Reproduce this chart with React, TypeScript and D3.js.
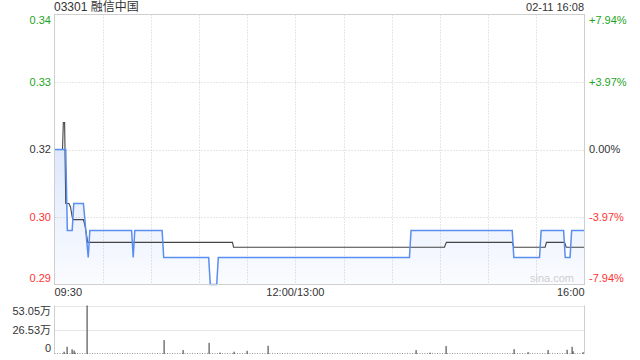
import React from "react";
import * as d3 from "d3";

const title = "03301 融信中国";
const stamp = "02-11 16:08";
const prevClose = 0.315;
const pctRange = 7.94;

const priceTickPcts = [7.94, 3.97, 0, -3.97, -7.94];
const priceTickLabels = ["0.34", "0.33", "0.32", "0.30", "0.29"];
const pctTickLabels = ["+7.94%", "+3.97%", "0.00%", "-3.97%", "-7.94%"];
const timeLabels = ["09:30", "12:00/13:00", "16:00"];
const timeLabelMinutes = [0, 150, 330];

// price line: [trading minute from 09:30, price]
const priceMinutes = [0, 7, 8, 11, 12, 18, 21, 22, 48, 49, 50, 67, 68, 96, 97, 101, 102, 221, 222, 285, 286, 302, 303, 317, 318, 321, 322, 330];
const priceValues = [0.315, 0.315, 0.3, 0.3, 0.305, 0.305, 0.295, 0.3, 0.3, 0.295, 0.3, 0.3, 0.295, 0.295, 0.29, 0.29, 0.295, 0.295, 0.3, 0.3, 0.295, 0.295, 0.3, 0.3, 0.295, 0.295, 0.3, 0.3];

// average line
const avgMinutes = [0, 5, 5.5, 6.3, 7, 9, 10, 11, 11.6, 18, 19, 20, 20.7, 110.8, 111.5, 242.8, 244, 285, 286, 305.5, 306.3, 317.6, 318.6, 330];
const avgValues = [0.315, 0.315, 0.32, 0.32, 0.305, 0.305, 0.3043, 0.3025, 0.302, 0.302, 0.3009, 0.2991, 0.2978, 0.2978, 0.2969, 0.2969, 0.2978, 0.2978, 0.2969, 0.2969, 0.2978, 0.2978, 0.2969, 0.2969];

// volume (万)
const volMinutes = [6, 8, 11, 12, 13, 20, 68, 80, 96, 103, 112, 120, 133, 225, 234, 244, 286, 295, 307, 319, 322, 323, 329];
const volValues = [2.5, 7.9, 5.1, 3.8, 1.5, 53.05, 15.2, 4.3, 12.2, 1.5, 2.5, 3.5, 9, 4.3, 1.5, 8.7, 5.3, 2, 4.3, 4.6, 7.9, 3, 2];
const volMax = 53.05;
const volTickLabels = ["53.05万", "26.53万", "0"];
const volTickValues = [53.05, 26.525, 0];

const FONT = '"Liberation Sans", Arial, "Noto Sans CJK SC", sans-serif';
const GREEN = "#1ea51e";
const RED = "#f33";
const DARK = "#333";
const GRID = "#cfcfcf";
const BLUE = "#5a8ef0";

export default function App() {
  const L = 54.5, R = 584.5, T = 14.5, B = 284.5;
  const VT = 305.5, VB = 354;
  const x = d3.scaleLinear().domain([0, 330]).range([L, R]);
  const y = d3
    .scaleLinear()
    .domain([prevClose * (1 - pctRange / 100), prevClose * (1 + pctRange / 100)])
    .range([B, T]);
  const yPct = d3.scaleLinear().domain([-pctRange, pctRange]).range([B, T]);
  const yv = d3.scaleLinear().domain([0, volMax]).range([VB, VT]);

  const priceData = priceMinutes.map((m, i) => [m, priceValues[i]] as [number, number]);
  const avgData = avgMinutes.map((m, i) => [m, avgValues[i]] as [number, number]);

  const line = d3.line<[number, number]>().x((d) => x(d[0])).y((d) => y(d[1]));
  const area = d3
    .area<[number, number]>()
    .x((d) => x(d[0]))
    .y0(B)
    .y1((d) => y(d[1]));

  const vGrid = d3.range(1, 11).map((k) => x((k * 330) / 11));
  const colorFor = (p: number) => (p > 0 ? GREEN : p < 0 ? RED : DARK);
  const clampY = (v: number) => Math.min(Math.max(v, T + 6), B - 6);

  return (
    <svg
      width={640}
      height={360}
      style={{ position: "absolute", left: 0, top: 0, fontFamily: FONT }}
    >
      <defs>
        <linearGradient id="fillg" gradientUnits="userSpaceOnUse" x1={0} y1={y(0.315)} x2={0} y2={B}>
          <stop offset="0%" stopColor={BLUE} stopOpacity={0.2} />
          <stop offset="100%" stopColor={BLUE} stopOpacity={0.03} />
        </linearGradient>
      </defs>
      <rect width={640} height={360} fill="#fff" />

      {/* header */}
      <text x={54} y={11} fontSize={12} fill={DARK}>{title}</text>
      <text x={584} y={11} fontSize={11} fill={DARK} textAnchor="end">{stamp}</text>

      {/* price grid */}
      {vGrid.map((gx, i) => (
        <line key={"vg" + i} x1={Math.round(gx) + 0.5} x2={Math.round(gx) + 0.5} y1={T} y2={B} stroke={GRID} strokeDasharray="1,2" />
      ))}
      {priceTickPcts.slice(1, 4).map((p, i) => (
        <line key={"hg" + i} x1={L} x2={R} y1={Math.round(yPct(p)) + 0.5} y2={Math.round(yPct(p)) + 0.5} stroke={GRID} strokeDasharray="1,2" />
      ))}

      {/* area + lines */}
      <path d={area(priceData) || ""} fill="url(#fillg)" />
      <path d={line(avgData) || ""} fill="none" stroke="#444" strokeWidth={1.1} />
      <path d={line(priceData) || ""} fill="none" stroke={BLUE} strokeWidth={1.5} />

      {/* frame */}
      <rect x={L} y={T} width={R - L} height={B - T} fill="none" stroke={GRID} />

      {/* watermark */}
      <text x={574} y={282} fontSize={11} fill="#cfcfcf" textAnchor="end">sina.com</text>

      {/* price labels */}
      {priceTickPcts.map((p, i) => (
        <text key={"pl" + i} x={51} y={clampY(yPct(p))} dy="0.35em" fontSize={11} fill={colorFor(p)} textAnchor="end">
          {priceTickLabels[i]}
        </text>
      ))}
      {priceTickPcts.map((p, i) => (
        <text key={"pr" + i} x={589} y={clampY(yPct(p))} dy="0.35em" fontSize={11} fill={colorFor(p)}>
          {pctTickLabels[i]}
        </text>
      ))}

      {/* time labels */}
      {timeLabels.map((t, i) => (
        <text
          key={"tl" + i}
          x={i === 0 ? L : i === 2 ? R : x(timeLabelMinutes[i])}
          y={296}
          fontSize={11}
          fill={DARK}
          textAnchor={i === 0 ? "start" : i === 2 ? "end" : "middle"}
        >
          {t}
        </text>
      ))}

      {/* volume panel */}
      {volTickValues.slice(0, 2).map((v, i) => (
        <line key={"vh" + i} x1={L} x2={R} y1={Math.round(yv(v)) + 0.5} y2={Math.round(yv(v)) + 0.5} stroke={GRID} strokeDasharray="1,1" />
      ))}
      <line x1={L} x2={L} y1={VT} y2={VB} stroke={GRID} />
      <line x1={R} x2={R} y1={VT} y2={VB} stroke={GRID} />
      <line x1={L} x2={R} y1={VB - 0.5} y2={VB - 0.5} stroke="#999" strokeDasharray="1,1.5" />
      {volMinutes.map((m, i) => (
        <rect
          key={"vb" + i}
          x={Math.round(x(m)) - 0.5}
          y={yv(volValues[i])}
          width={1.2}
          height={VB - yv(volValues[i])}
          fill="#555"
        />
      ))}
      {volTickLabels.map((t, i) => (
        <text
          key={"vl" + i}
          x={51}
          y={i === 0 ? 311 : i === 1 ? yv(volTickValues[i]) : 348}
          dy="0.35em"
          fontSize={11}
          fill={DARK}
          textAnchor="end"
        >
          {t}
        </text>
      ))}
    </svg>
  );
}
